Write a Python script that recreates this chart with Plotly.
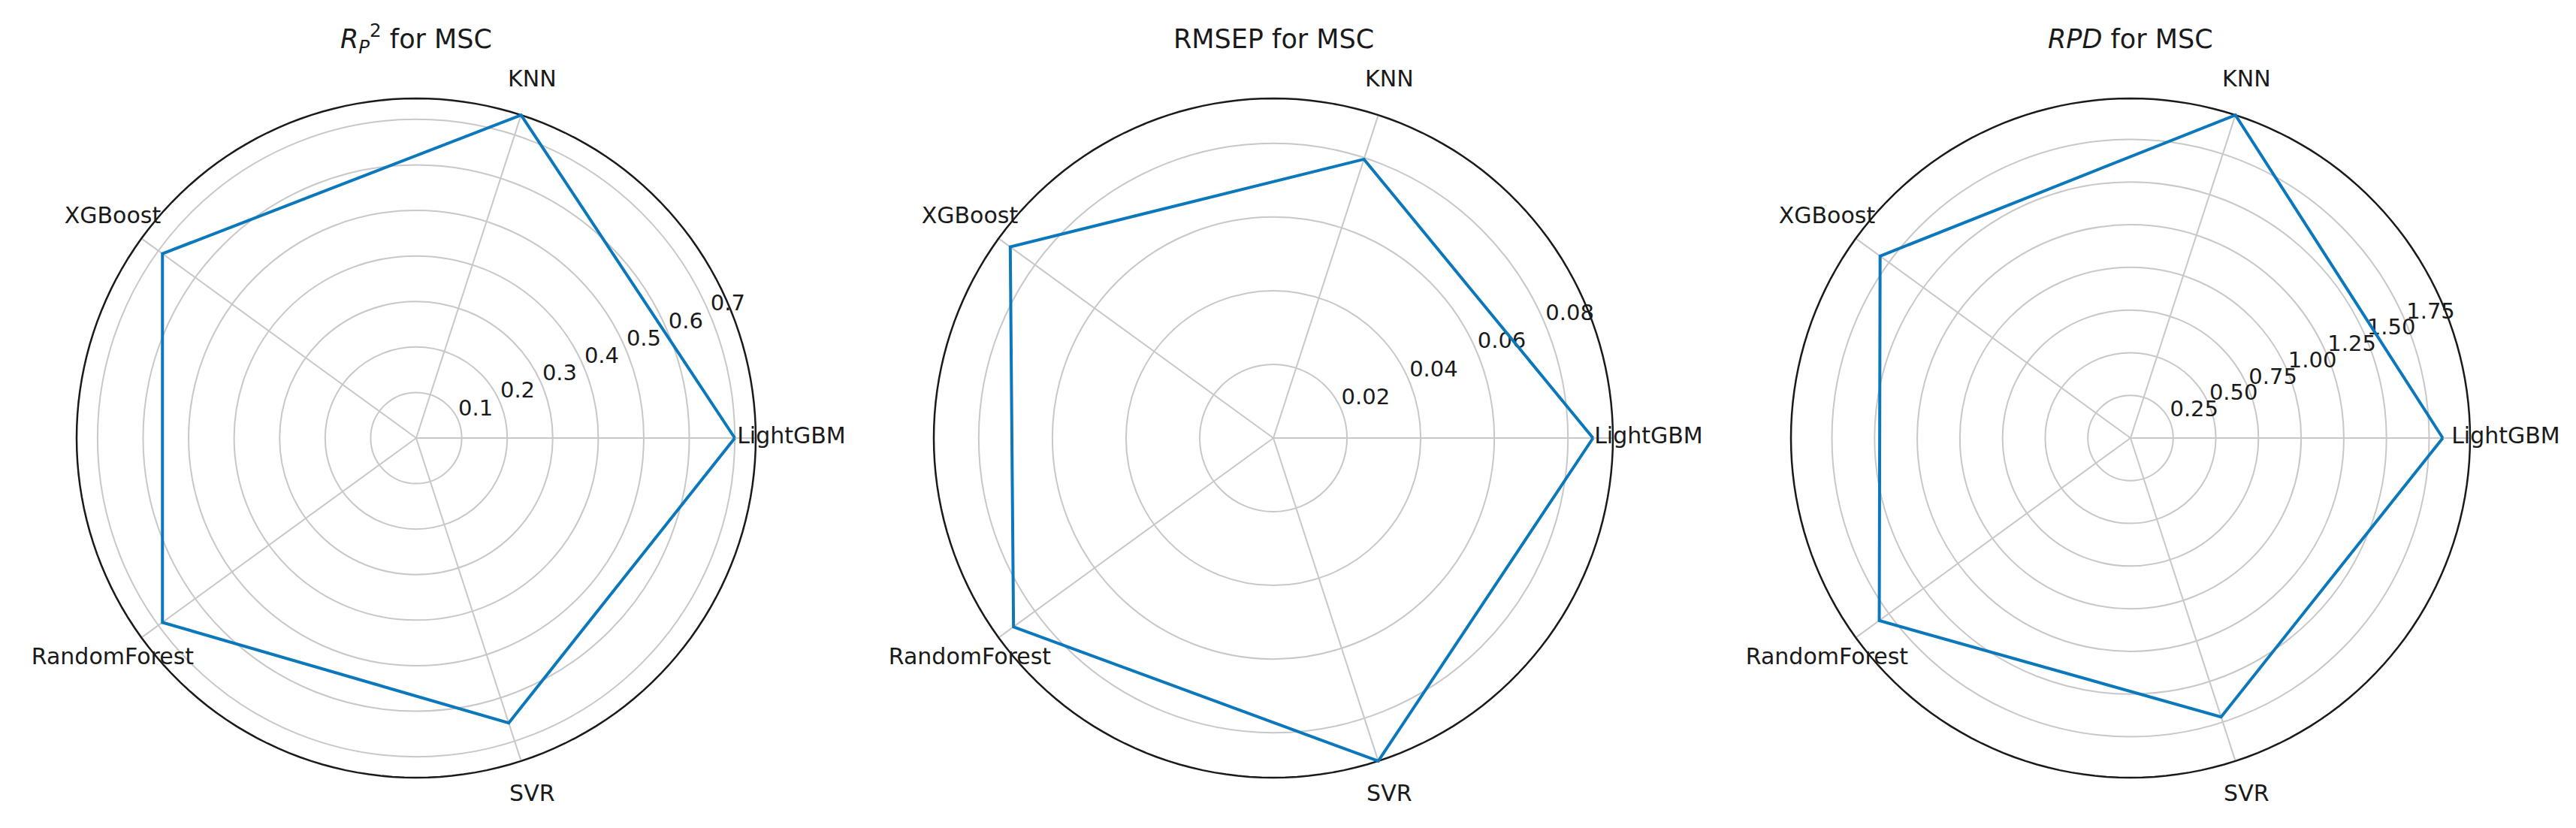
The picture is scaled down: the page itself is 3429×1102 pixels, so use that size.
import plotly.graph_objects as go

# ---- data ----
models = ["LightGBM", "KNN", "XGBoost", "RandomForest", "SVR"]
r2_values = [0.700, 0.746, 0.689, 0.689, 0.658]
rmsep_values = [0.0868, 0.0796, 0.0883, 0.0872, 0.0922]
rpd_values = [1.830, 1.990, 1.814, 1.820, 1.718]

r2_ticks = [0.1, 0.2, 0.3, 0.4, 0.5, 0.6, 0.7]
r2_ticktext = ["0.1", "0.2", "0.3", "0.4", "0.5", "0.6", "0.7"]
rmsep_ticks = [0.02, 0.04, 0.06, 0.08]
rmsep_ticktext = ["0.02", "0.04", "0.06", "0.08"]
rpd_ticks = [0.25, 0.50, 0.75, 1.00, 1.25, 1.50, 1.75]
rpd_ticktext = ["0.25", "0.50", "0.75", "1.00", "1.25", "1.50", "1.75"]

titles = ["<i>R</i><sub><i>P</i></sub><sup>2</sup> for MSC",
          "RMSEP for MSC",
          "<i>RPD</i> for MSC"]

# ---- styling ----
W, H = 3429, 1102
FONT = "DejaVu Sans"
LINE_COLOR = "#0a78bb"
GRID_COLOR = "#c8c8c8"
SPINE_COLOR = "#1a1a1a"
TEXT_COLOR = "#1a1a1a"
centers_px = [546, 1687, 2828]
center_y_px = 575
radius_px = 452          # radius of the outer (spine) circle in pixels
pad_factor = 1.12        # polar range extends beyond the spine to hold the labels
label_factor = 1.105     # category labels centred at this fraction of rmax
label_angle = 22.5

n = len(models)
angles = [i * 360.0 / n for i in range(n)]
circle_theta = list(range(0, 361, 2))

panels = [
    (r2_values, r2_ticks, r2_ticktext),
    (rmsep_values, rmsep_ticks, rmsep_ticktext),
    (rpd_values, rpd_ticks, rpd_ticktext),
]

fig = go.Figure()
layout_updates = {}
annotations = []

for i, (vals, ticks, ticktext) in enumerate(panels):
    pname = "polar" if i == 0 else f"polar{i+1}"
    rmax = max(vals)

    # spokes from centre to the spine
    spoke_r, spoke_t = [], []
    for a in angles:
        spoke_r += [0, rmax, None]
        spoke_t += [a, a, None]
    fig.add_trace(go.Scatterpolar(
        r=spoke_r, theta=spoke_t, mode="lines",
        line=dict(color=GRID_COLOR, width=2),
        subplot=pname, showlegend=False, hoverinfo="skip",
    ))
    # outer spine circle at rmax
    fig.add_trace(go.Scatterpolar(
        r=[rmax] * len(circle_theta), theta=circle_theta, mode="lines",
        line=dict(color=SPINE_COLOR, width=2.5),
        subplot=pname, showlegend=False, hoverinfo="skip",
    ))
    # radial tick labels (matplotlib style at 22.5 degrees)
    fig.add_trace(go.Scatterpolar(
        r=ticks, theta=[label_angle] * len(ticks), mode="text",
        text=ticktext, textposition="top right",
        textfont=dict(family=FONT, size=29, color=TEXT_COLOR),
        subplot=pname, showlegend=False, hoverinfo="skip", cliponaxis=False,
    ))
    # category labels centred just outside the spine
    fig.add_trace(go.Scatterpolar(
        r=[rmax * label_factor] * n, theta=angles, mode="text",
        text=models, textposition="middle center",
        textfont=dict(family=FONT, size=30, color=TEXT_COLOR),
        subplot=pname, showlegend=False, hoverinfo="skip", cliponaxis=False,
    ))
    # data polygon
    fig.add_trace(go.Scatterpolar(
        r=vals + [vals[0]], theta=angles + [angles[0]], mode="lines",
        line=dict(color=LINE_COLOR, width=4),
        subplot=pname, showlegend=False, cliponaxis=False,
    ))

    cx = centers_px[i]
    rp = radius_px * pad_factor
    dom_x = [(cx - rp) / W, (cx + rp) / W]
    dom_y = [1 - (center_y_px + rp) / H, 1 - (center_y_px - rp) / H]
    layout_updates[pname] = dict(
        domain=dict(x=dom_x, y=dom_y),
        bgcolor="rgba(0,0,0,0)",
        radialaxis=dict(
            range=[0, rmax * pad_factor], tickmode="array", tickvals=ticks,
            showticklabels=False, ticks="", showline=False,
            gridcolor=GRID_COLOR, gridwidth=2, angle=label_angle,
        ),
        angularaxis=dict(
            type="linear", thetaunit="degrees", direction="counterclockwise",
            rotation=0, tickmode="array", tickvals=angles,
            showticklabels=False, ticks="", showgrid=False, showline=False,
        ),
    )
    annotations.append(dict(
        text=titles[i], x=cx / W, y=1 - 44 / H, xref="paper", yref="paper",
        xanchor="center", yanchor="middle", showarrow=False,
        font=dict(family=FONT, size=35, color=TEXT_COLOR),
    ))

fig.update_layout(
    width=W, height=H,
    margin=dict(l=0, r=0, t=0, b=0),
    paper_bgcolor="white", plot_bgcolor="white",
    font=dict(family=FONT, color=TEXT_COLOR),
    annotations=annotations,
    showlegend=False,
    **layout_updates,
)

fig.write_html("out.html")
